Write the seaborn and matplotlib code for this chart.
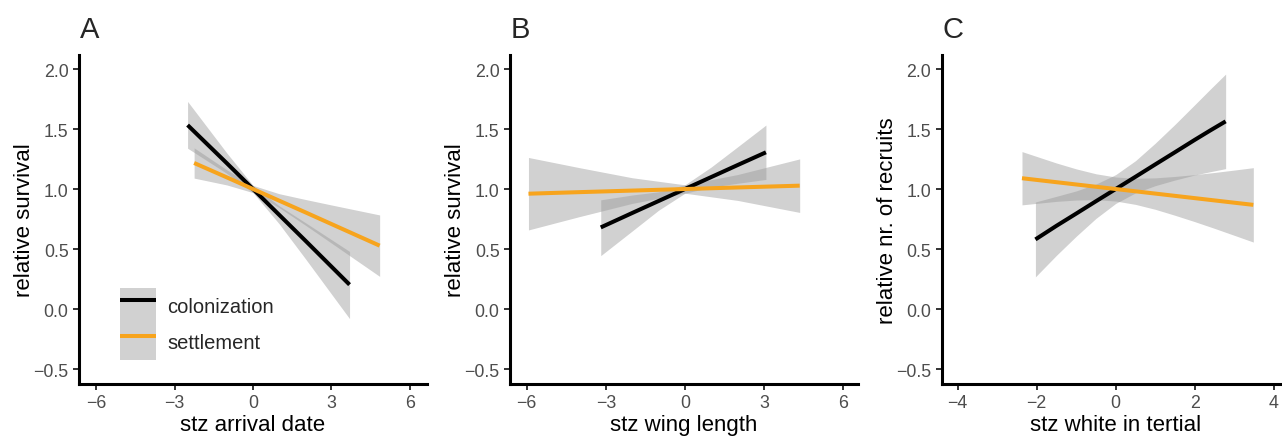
import matplotlib
matplotlib.use("Agg")
import pandas as pd
import matplotlib.pyplot as plt
import matplotlib.ticker as mticker
from matplotlib.patches import Rectangle
from matplotlib.lines import Line2D
import seaborn as sns

GROUPS = ["colonization", "settlement"]
PALETTE = {"colonization": "#000000", "settlement": "#F7A41D"}
RIBBON = "#999999"
RIBBON_ALPHA = 0.45

# panel A - arrival date
a_col_x = [-2.5, -1, 0, 1, 2, 3.69]
a_col_fit = [1.533, 1.215, 1.0, 0.785, 0.570, 0.203]
a_col_lo = [1.34, 1.13, 0.97, 0.71, 0.42, -0.08]
a_col_hi = [1.73, 1.30, 1.03, 0.86, 0.72, 0.48]
a_set_x = [-2.25, -1, 0, 1, 2, 3, 4.84]
a_set_fit = [1.217, 1.097, 1.0, 0.903, 0.806, 0.708, 0.528]
a_set_lo = [1.091, 1.034, 0.97, 0.845, 0.699, 0.549, 0.272]
a_set_hi = [1.343, 1.16, 1.03, 0.961, 0.913, 0.867, 0.784]

# panel B - wing length
b_col_x = [-3.19, -2, -1, 0, 1, 2, 3.07]
b_col_fit = [0.68, 0.80, 0.90, 1.0, 1.10, 1.20, 1.306]
b_col_lo = [0.445, 0.65, 0.823, 0.965, 1.016, 1.048, 1.08]
b_col_hi = [0.91, 0.95, 0.977, 1.035, 1.184, 1.352, 1.533]
b_set_x = [-5.93, -4, -2, 0, 2, 4.35]
b_set_fit = [0.961, 0.974, 0.987, 1.0, 1.013, 1.028]
b_set_lo = [0.659, 0.770, 0.880, 0.965, 0.905, 0.805]
b_set_hi = [1.263, 1.178, 1.094, 1.035, 1.121, 1.251]

# panel C - white in tertial
c_col_x = [-2.03, -1.5, -1, -0.5, 0, 0.5, 1, 1.5, 2, 2.4, 2.78]
c_col_fit = [0.58, 0.693, 0.795, 0.898, 1.0, 1.102, 1.205, 1.307, 1.41, 1.49, 1.564]
c_col_lo = [0.268, 0.447, 0.606, 0.755, 0.880, 0.968, 1.028, 1.075, 1.117, 1.145, 1.170]
c_col_hi = [0.892, 0.939, 0.984, 1.041, 1.120, 1.236, 1.382, 1.539, 1.703, 1.835, 1.958]
c_set_x = [-2.37, -1.5, -1, -0.5, 0, 0.5, 1, 1.5, 2, 2.5, 3, 3.48]
c_set_fit = [1.090, 1.057, 1.038, 1.019, 1.0, 0.981, 0.962, 0.943, 0.924, 0.905, 0.886, 0.868]
c_set_lo = [0.868, 0.897, 0.908, 0.911, 0.900, 0.872, 0.831, 0.781, 0.728, 0.672, 0.614, 0.558]
c_set_hi = [1.312, 1.217, 1.168, 1.127, 1.100, 1.090, 1.093, 1.105, 1.120, 1.138, 1.158, 1.178]


def make_df(col, sett):
    parts = []
    for name, (x, fit, lo, hi) in zip(GROUPS, [col, sett]):
        parts.append(pd.DataFrame({"x": x, "fit": fit, "lo": lo, "hi": hi, "stage": name}))
    return pd.concat(parts, ignore_index=True)


df_a = make_df((a_col_x, a_col_fit, a_col_lo, a_col_hi), (a_set_x, a_set_fit, a_set_lo, a_set_hi))
df_b = make_df((b_col_x, b_col_fit, b_col_lo, b_col_hi), (b_set_x, b_set_fit, b_set_lo, b_set_hi))
df_c = make_df((c_col_x, c_col_fit, c_col_lo, c_col_hi), (c_set_x, c_set_fit, c_set_lo, c_set_hi))

sns.set_theme(style="white")
plt.rcParams["font.family"] = ["Liberation Sans", "DejaVu Sans"]

fig = plt.figure(figsize=(12.82, 4.39), dpi=100)

panels = [
    ("A", df_a, "stz arrival date", "relative survival", [-6, -3, 0, 3, 6], (-6.65, 6.65), 79),
    ("B", df_b, "stz wing length", "relative survival", [-6, -3, 0, 3, 6], (-6.63, 6.56), 510),
    ("C", df_c, "stz white in tertial", "relative nr. of recruits", [-4, -2, 0, 2, 4], (-4.4, 4.4), 941.7),
]

W, H = 1282, 439
for letter, df, xlab, ylab, xticks, xlim, left in panels:
    ax = fig.add_axes([left / W, 1 - 385 / H, 348 / W, 329 / H])
    for g in GROUPS:
        d = df[df["stage"] == g]
        ax.fill_between(d["x"], d["lo"], d["hi"], color=RIBBON, alpha=RIBBON_ALPHA, lw=0)
    sns.lineplot(data=df, x="x", y="fit", hue="stage", hue_order=GROUPS, palette=PALETTE,
                 estimator=None, lw=2.9, legend=False, ax=ax, solid_capstyle="butt")
    ax.set_xlim(*xlim)
    ax.set_ylim(-0.625, 2.117)
    ax.set_xticks(xticks)
    ax.set_yticks([-0.5, 0.0, 0.5, 1.0, 1.5, 2.0])
    ax.yaxis.set_major_formatter(mticker.FuncFormatter(lambda v, p: f"{v:.1f}".replace("-", "\u2212")))
    ax.xaxis.set_major_formatter(mticker.FuncFormatter(lambda v, p: f"{v:g}".replace("-", "\u2212")))
    ax.tick_params(axis="both", length=4, width=1.4, color="#333333", labelcolor="#4D4D4D",
                   labelsize=12.8, pad=3.5, direction="out", bottom=True, left=True)
    for side in ["top", "right"]:
        ax.spines[side].set_visible(False)
    for side in ["left", "bottom"]:
        ax.spines[side].set_color("black")
        ax.spines[side].set_linewidth(2.2)
    ax.set_xlabel(xlab, fontsize=16, color="black")
    ax.set_ylabel(ylab, fontsize=16, color="black")
    ax.xaxis.set_label_coords(0.5, -0.091)
    ax.yaxis.set_label_coords(-0.127, 0.5)
    fig.text((left + 1) / W, 1 - 38 / H, letter, fontsize=21, ha="left", va="baseline")

    if letter == "A":
        handles = [(Rectangle((0, 0), 1, 1, facecolor=RIBBON, alpha=RIBBON_ALPHA, lw=0),
                    Line2D([], [], color=PALETTE[g], lw=2.9, solid_capstyle="butt")) for g in GROUPS]
        ax.legend(handles, GROUPS, loc="upper left", bbox_to_anchor=(41 / 348, 96 / 329),
                  frameon=False, fontsize=14.5, borderpad=0, borderaxespad=0,
                  handlelength=1.8, handleheight=2.38, labelspacing=0, handletextpad=0.55)

fig.savefig("out.png", dpi=100)
print("Saved: out.png")
